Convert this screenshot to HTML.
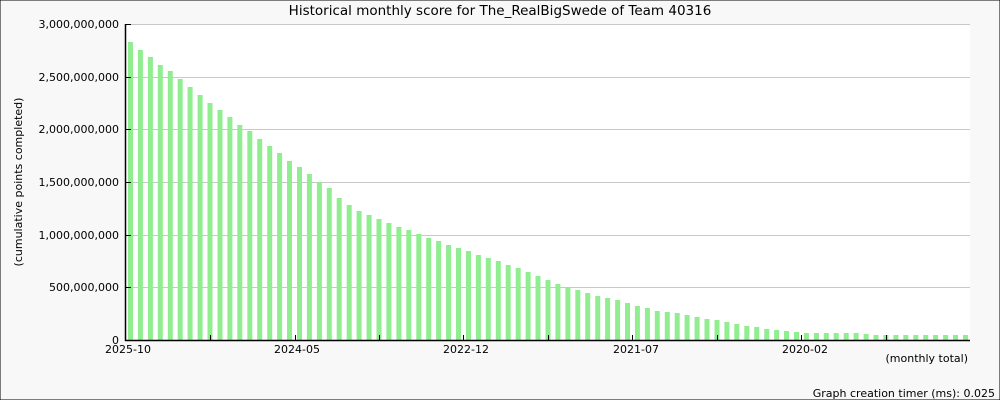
<!DOCTYPE html><html><head><style>body{margin:0}svg{display:block;font-family:"DejaVu Sans","Liberation Sans",sans-serif}</style></head><body>
<svg width="1000" height="400" xmlns="http://www.w3.org/2000/svg">
<rect width="1000" height="400" fill="#f8f8f8" stroke="#000" stroke-width="1"/>
<rect x="126" y="24" width="844" height="316" fill="#fff"/>
<g stroke="#c8c8c8" stroke-width="1">
<line x1="126" x2="970" y1="24.5" y2="24.5"/><line x1="126" x2="970" y1="77.5" y2="77.5"/><line x1="126" x2="970" y1="129.5" y2="129.5"/><line x1="126" x2="970" y1="182.5" y2="182.5"/><line x1="126" x2="970" y1="235.5" y2="235.5"/><line x1="126" x2="970" y1="287.5" y2="287.5"/>
</g>
<g fill="#90ee90">
<rect x="128.0" y="42" width="5" height="298"/>
<rect x="137.9" y="50" width="5" height="290"/>
<rect x="147.9" y="57" width="5" height="283"/>
<rect x="157.8" y="65" width="5" height="275"/>
<rect x="167.8" y="71" width="5" height="269"/>
<rect x="177.7" y="79" width="5" height="261"/>
<rect x="187.6" y="87" width="5" height="253"/>
<rect x="197.6" y="95" width="5" height="245"/>
<rect x="207.5" y="103" width="5" height="237"/>
<rect x="217.5" y="110" width="5" height="230"/>
<rect x="227.4" y="117" width="5" height="223"/>
<rect x="237.3" y="125" width="5" height="215"/>
<rect x="247.3" y="131" width="5" height="209"/>
<rect x="257.2" y="139" width="5" height="201"/>
<rect x="267.2" y="146" width="5" height="194"/>
<rect x="277.1" y="153" width="5" height="187"/>
<rect x="287.0" y="161" width="5" height="179"/>
<rect x="297.0" y="167" width="5" height="173"/>
<rect x="306.9" y="174" width="5" height="166"/>
<rect x="316.9" y="182" width="5" height="158"/>
<rect x="326.8" y="188" width="5" height="152"/>
<rect x="336.7" y="198" width="5" height="142"/>
<rect x="346.7" y="205" width="5" height="135"/>
<rect x="356.6" y="211" width="5" height="129"/>
<rect x="366.6" y="215" width="5" height="125"/>
<rect x="376.5" y="219" width="5" height="121"/>
<rect x="386.4" y="223" width="5" height="117"/>
<rect x="396.4" y="227" width="5" height="113"/>
<rect x="406.3" y="230" width="5" height="110"/>
<rect x="416.3" y="234" width="5" height="106"/>
<rect x="426.2" y="238" width="5" height="102"/>
<rect x="436.1" y="241" width="5" height="99"/>
<rect x="446.1" y="245" width="5" height="95"/>
<rect x="456.0" y="248" width="5" height="92"/>
<rect x="466.0" y="251" width="5" height="89"/>
<rect x="475.9" y="255" width="5" height="85"/>
<rect x="485.8" y="258" width="5" height="82"/>
<rect x="495.8" y="261" width="5" height="79"/>
<rect x="505.7" y="265" width="5" height="75"/>
<rect x="515.7" y="268" width="5" height="72"/>
<rect x="525.6" y="272" width="5" height="68"/>
<rect x="535.5" y="276" width="5" height="64"/>
<rect x="545.5" y="280" width="5" height="60"/>
<rect x="555.4" y="284" width="5" height="56"/>
<rect x="565.4" y="287" width="5" height="53"/>
<rect x="575.3" y="290" width="5" height="50"/>
<rect x="585.2" y="293" width="5" height="47"/>
<rect x="595.2" y="296" width="5" height="44"/>
<rect x="605.1" y="298" width="5" height="42"/>
<rect x="615.1" y="300" width="5" height="40"/>
<rect x="625.0" y="303" width="5" height="37"/>
<rect x="634.9" y="306" width="5" height="34"/>
<rect x="644.9" y="308" width="5" height="32"/>
<rect x="654.8" y="311" width="5" height="29"/>
<rect x="664.8" y="312" width="5" height="28"/>
<rect x="674.7" y="313" width="5" height="27"/>
<rect x="684.6" y="315" width="5" height="25"/>
<rect x="694.6" y="317" width="5" height="23"/>
<rect x="704.5" y="319" width="5" height="21"/>
<rect x="714.5" y="320" width="5" height="20"/>
<rect x="724.4" y="322" width="5" height="18"/>
<rect x="734.3" y="324" width="5" height="16"/>
<rect x="744.3" y="326" width="5" height="14"/>
<rect x="754.2" y="327" width="5" height="13"/>
<rect x="764.2" y="329" width="5" height="11"/>
<rect x="774.1" y="330" width="5" height="10"/>
<rect x="784.0" y="331" width="5" height="9"/>
<rect x="794.0" y="332" width="5" height="8"/>
<rect x="803.9" y="333" width="5" height="7"/>
<rect x="813.9" y="333" width="5" height="7"/>
<rect x="823.8" y="333" width="5" height="7"/>
<rect x="833.7" y="333" width="5" height="7"/>
<rect x="843.7" y="333" width="5" height="7"/>
<rect x="853.6" y="333" width="5" height="7"/>
<rect x="863.6" y="334" width="5" height="6"/>
<rect x="873.5" y="335" width="5" height="5"/>
<rect x="883.4" y="335" width="5" height="5"/>
<rect x="893.4" y="335" width="5" height="5"/>
<rect x="903.3" y="335" width="5" height="5"/>
<rect x="913.3" y="335" width="5" height="5"/>
<rect x="923.2" y="335" width="5" height="5"/>
<rect x="933.1" y="335" width="5" height="5"/>
<rect x="943.1" y="335" width="5" height="5"/>
<rect x="953.0" y="335" width="5" height="5"/>
<rect x="963.0" y="335" width="5" height="5"/>
</g>
<g stroke="#000" stroke-width="1.5">
<line x1="125.5" y1="24" x2="125.5" y2="341"/><line x1="125" y1="340.5" x2="970" y2="340.5"/>
</g>
<g stroke="#000" stroke-width="1">
<line x1="126" x2="131" y1="24.5" y2="24.5"/><line x1="126" x2="131" y1="77.5" y2="77.5"/><line x1="126" x2="131" y1="129.5" y2="129.5"/><line x1="126" x2="131" y1="182.5" y2="182.5"/><line x1="126" x2="131" y1="235.5" y2="235.5"/><line x1="126" x2="131" y1="287.5" y2="287.5"/>
<line x1="210.5" x2="210.5" y1="335" y2="341"/><line x1="295.5" x2="295.5" y1="335" y2="341"/><line x1="379.5" x2="379.5" y1="335" y2="341"/><line x1="463.5" x2="463.5" y1="335" y2="341"/><line x1="548.5" x2="548.5" y1="335" y2="341"/><line x1="632.5" x2="632.5" y1="335" y2="341"/><line x1="717.5" x2="717.5" y1="335" y2="341"/><line x1="801.5" x2="801.5" y1="335" y2="341"/><line x1="886.5" x2="886.5" y1="335" y2="341"/>
</g>
<g font-size="11" fill="#000" text-anchor="end">
<text x="119" y="28">3,000,000,000</text><text x="119" y="81">2,500,000,000</text><text x="119" y="133">2,000,000,000</text><text x="119" y="186">1,500,000,000</text><text x="119" y="239">1,000,000,000</text><text x="119" y="291">500,000,000</text><text x="119" y="344">0</text>
</g>
<g font-size="11" fill="#000" text-anchor="middle">
<text x="128" y="353">2025-10</text><text x="297" y="353">2024-05</text><text x="466" y="353">2022-12</text><text x="636" y="353">2021-07</text><text x="805" y="353">2020-02</text>
<text x="500" y="15" font-size="13.5">Historical monthly score for The_RealBigSwede of Team 40316</text>
<text transform="translate(22,182) rotate(-90)">(cumulative points completed)</text>
</g>
<g font-size="11" fill="#000" text-anchor="end"><text x="968" y="362">(monthly total)</text><text x="995" y="397">Graph creation timer (ms): 0.025</text></g>
</svg></body></html>
